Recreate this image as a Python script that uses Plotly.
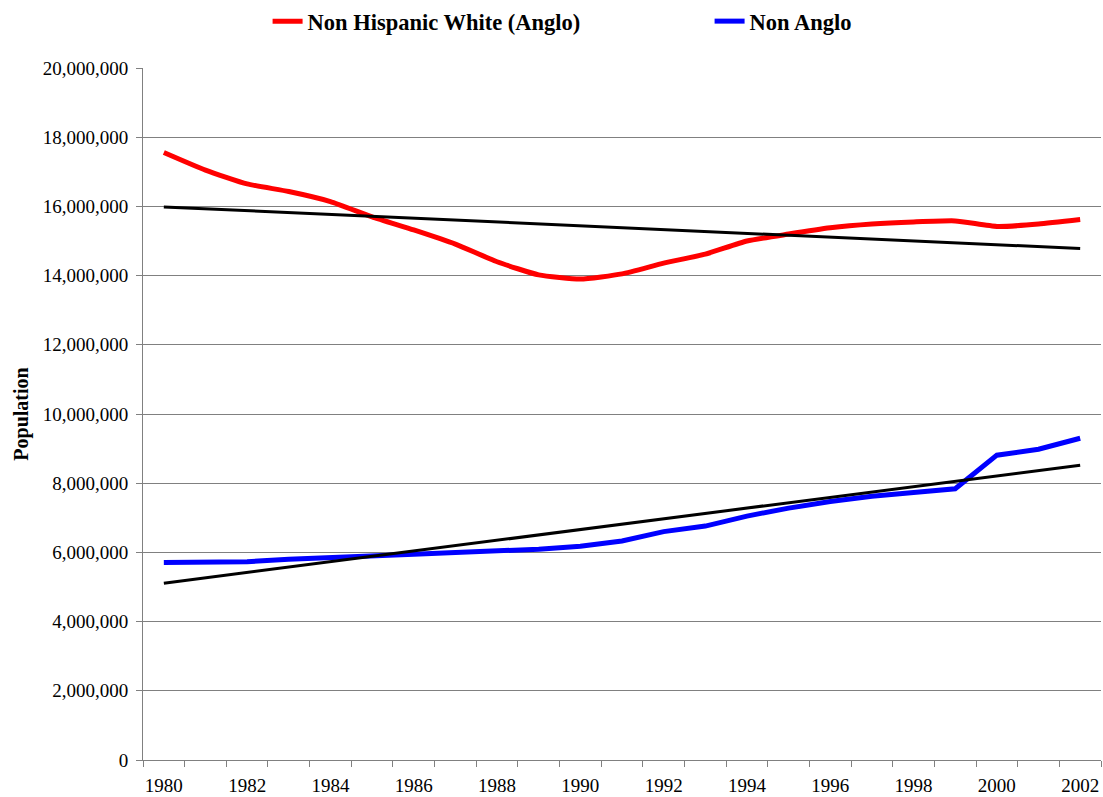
import numpy as np
import plotly.graph_objects as go

years = list(range(1980, 2003))
anglo = [17.56, 17.05, 16.65, 16.43, 16.14, 15.70, 15.32, 14.91, 14.40, 14.02, 13.90, 14.05,
         14.36, 14.62, 15.00, 15.20, 15.38, 15.49, 15.55, 15.58, 15.42, 15.49, 15.62]
non_anglo = [5.71, 5.72, 5.73, 5.80, 5.86, 5.91, 5.95, 6.00, 6.04, 6.09, 6.18, 6.33,
             6.60, 6.76, 7.05, 7.28, 7.47, 7.62, 7.73, 7.84, 8.81, 8.98, 9.30]
anglo = [v * 1e6 for v in anglo]
non_anglo = [v * 1e6 for v in non_anglo]
tick_years = list(range(1980, 2003, 2))
y_ticks = list(range(0, 20000001, 2000000))

x = np.array(years, dtype=float)
fit_a = np.polyval(np.polyfit(x, anglo, 1), x)
fit_n = np.polyval(np.polyfit(x, non_anglo, 1), x)

FONT = "Liberation Serif"
fig = go.Figure()
fig.add_trace(go.Scatter(x=years, y=anglo, mode="lines", name="Non Hispanic White (Anglo)",
                         line=dict(color="#ff0000", width=5, shape="spline", smoothing=0.5)))
fig.add_trace(go.Scatter(x=years, y=non_anglo, mode="lines", name="Non Anglo",
                         line=dict(color="#0000ff", width=5)))
fig.add_trace(go.Scatter(x=years, y=fit_a, mode="lines", showlegend=False,
                         line=dict(color="#000000", width=3)))
fig.add_trace(go.Scatter(x=years, y=fit_n, mode="lines", showlegend=False,
                         line=dict(color="#000000", width=3)))

fig.update_layout(
    width=1103, height=797,
    margin=dict(l=143, r=2, t=68, b=37),
    paper_bgcolor="white", plot_bgcolor="white",
    font=dict(family=FONT, size=19, color="black"),
    legend=dict(orientation="h", xref="container", yref="container",
                x=0.2426, y=1.0, xanchor="left", yanchor="top",
                font=dict(family=FONT, size=22.5, color="black", weight="bold"),
                entrywidth=397, entrywidthmode="pixels", itemwidth=30),
    xaxis=dict(range=[1979.5, 2002.5], tickvals=tick_years, ticktext=[str(t) for t in tick_years],
               ticks="", showgrid=False, showline=True, linecolor="#808080", linewidth=1,
               zeroline=False, tickfont=dict(family=FONT, size=19), ticklabelstandoff=8,
               minor=dict(tickvals=[y - 0.5 for y in years] + [2002.5], ticks="outside",
                          ticklen=6, tickcolor="#808080", tickwidth=1, showgrid=False)),
    yaxis=dict(range=[0, 20000000], tickvals=y_ticks, tickformat=",d",
               ticks="outside", ticklen=6, tickcolor="#808080", ticklabelstandoff=4,
               showgrid=True, gridcolor="#808080", gridwidth=1,
               showline=True, linecolor="#808080", linewidth=1, zeroline=False,
               tickfont=dict(family=FONT, size=19),
               title=dict(text="Population", font=dict(family=FONT, size=20, weight="bold"),
                          standoff=8)),
)
fig.write_html("out.html", config={"displayModeBar": False},
               post_script="document.body.style.margin='0';document.body.style.overflow='hidden';")
